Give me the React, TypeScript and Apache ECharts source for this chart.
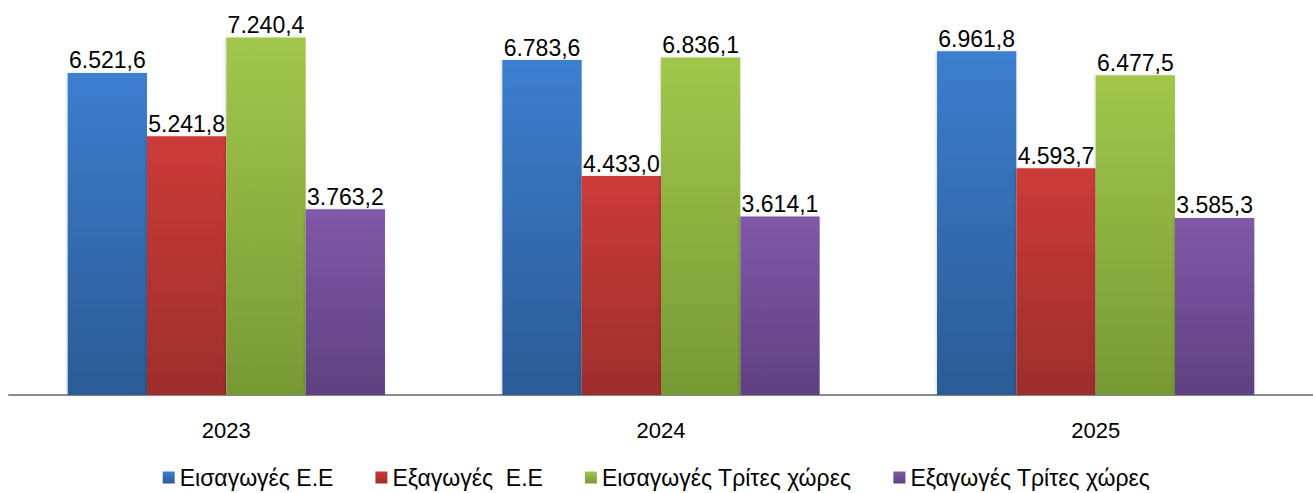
import React, { useEffect, useRef } from "react";
import * as echarts from "echarts";

const categories = ["2023", "2024", "2025"];
const seriesNames = ["Εισαγωγές Ε.Ε", "Εξαγωγές  Ε.Ε", "Εισαγωγές Τρίτες χώρες", "Εξαγωγές Τρίτες χώρες"];
const importsEU = [6521.6, 6783.6, 6961.8];
const exportsEU = [5241.8, 4433.0, 4593.7];
const importsThird = [7240.4, 6836.1, 6477.5];
const exportsThird = [3763.2, 3614.1, 3585.3];
const seriesData = [importsEU, exportsEU, importsThird, exportsThird];
const colorsTop = ["#3c7ecf", "#cc3b38", "#a2c74c", "#8059a8"];
const colorsBottom = ["#2b5b94", "#9d2e2c", "#779935", "#5e4180"];

const fmt = (v: number) => {
  const [i, d] = v.toFixed(1).split(".");
  return i.replace(/\B(?=(\d{3})+(?!\d))/g, ".") + "," + d;
};

export default function App() {
  const ref = useRef<HTMLDivElement>(null);
  useEffect(() => {
    const chart = echarts.init(ref.current!, null, { renderer: "svg" });
    chart.setOption({
      animation: false,
      textStyle: { fontFamily: "Liberation Sans" },
      grid: { left: 9, right: 0, top: 0, bottom: 98, containLabel: false },
      legend: {
        bottom: -1,
        left: "center",
        itemWidth: 12,
        itemHeight: 12,
        itemGap: 42,
        icon: "rect",
        textStyle: { fontSize: 23, color: "#000", fontFamily: "Liberation Sans" },
        data: seriesNames,
      },
      xAxis: {
        type: "category",
        data: categories,
        axisLine: { lineStyle: { color: "#8c8c8c", width: 2 } },
        axisTick: { show: false },
        axisLabel: { fontSize: 22, color: "#000", margin: 24 },
      },
      yAxis: {
        type: "value",
        min: 0,
        max: 8000,
        show: false,
        splitLine: { show: false },
      },
      series: seriesData.map((d, i) => ({
        name: seriesNames[i],
        type: "bar",
        data: d,
        barGap: "0%",
        barCategoryGap: "27%",
        itemStyle: {
          color: new echarts.graphic.LinearGradient(0, 0, 0, 1, [
            { offset: 0, color: colorsTop[i] },
            { offset: 1, color: colorsBottom[i] },
          ]),
          shadowColor: "rgba(0,0,0,0.15)",
          shadowBlur: 3,
          shadowOffsetX: -1,
        },
        label: {
          show: true,
          position: "top",
          distance: 1,
          fontSize: 23,
          color: "#000",
          formatter: (p: any) => fmt(p.value),
        },
      })),
    });
    return () => chart.dispose();
  }, []);
  return (
    <div
      ref={ref}
      style={{ position: "fixed", left: 0, top: 0, width: 1313, height: 493, background: "#fff" }}
    />
  );
}
